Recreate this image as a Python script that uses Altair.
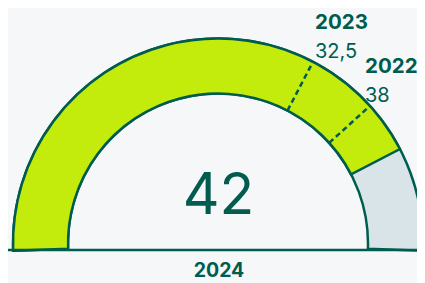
import math
import altair as alt
import pandas as pd

# ---- data ----
years = ["2022", "2023", "2024"]
values = [38, 32.5, 42]
value_labels = ["38", "32,5", "42"]
gauge_min = 0
gauge_max = 50

# ---- layout / style ----
W, H = 409, 275
CX, CY = 210, 235.5
R_OUT, R_IN = 205, 150
DELTA = 0.035
T0 = -math.pi / 2 - DELTA
T1 = math.pi / 2 + DELTA
DARK = "#005C4E"
LIME = "#C3EB0B"
GREY = "#D8E4E8"
BG = "#F5F7F9"
FONT = "Inter"
LABEL_MAX_X = W - 52

df = pd.DataFrame({"year": years, "value": values, "label": value_labels})
current = df[df["year"] == "2024"].copy()
current["start"] = gauge_min
past = df[df["year"] != "2024"]
track = pd.DataFrame({"start": [gauge_min], "value": [gauge_max]})

theta_scale = alt.Scale(domain=[gauge_min, gauge_max], range=[T0, T1])

def arc_layer(data, color):
    return alt.Chart(data).mark_arc(
        radius=R_OUT, radius2=R_IN, fill=color, stroke=DARK, strokeWidth=2.5
    ).encode(
        theta=alt.Theta("start:Q", scale=theta_scale, stack=False),
        theta2="value:Q",
        x=alt.value(CX),
        y=alt.value(CY),
    )

grey_arc = arc_layer(track, GREY)
green_arc = arc_layer(current, LIME)

baseline = alt.Chart(track).mark_rule(color=DARK, strokeWidth=2.5).encode(
    x=alt.value(0), x2=alt.value(W), y=alt.value(242)
)

span = T1 - T0
ang_expr = f"{T0} + {span} * (datum.value - {gauge_min}) / ({gauge_max} - {gauge_min})"

markers_base = alt.Chart(past).transform_calculate(
    ang=ang_expr
).transform_calculate(
    x_in=f"{CX} + {R_IN} * sin(datum.ang)",
    y_in=f"{CY} - {R_IN} * cos(datum.ang)",
    x_out=f"{CX} + {R_OUT} * sin(datum.ang)",
    y_out=f"{CY} - {R_OUT} * cos(datum.ang)",
).transform_calculate(
    x_lab=f"min(datum.x_out + 2, {LABEL_MAX_X})"
)

markers = markers_base.mark_rule(
    color=DARK, strokeWidth=2.5, strokeDash=[5.5, 3.5]
).encode(
    x=alt.X("x_in:Q", scale=None, axis=None),
    y=alt.Y("y_in:Q", scale=None, axis=None),
    x2="x_out:Q",
    y2="y_out:Q",
)

marker_years = markers_base.mark_text(
    align="left", baseline="alphabetic", dy=-33,
    font=FONT, fontSize=20.5, fontWeight="bold", color=DARK
).encode(
    x=alt.X("x_lab:Q", scale=None, axis=None),
    y=alt.Y("y_out:Q", scale=None, axis=None),
    text="year:N",
)

marker_vals = markers_base.mark_text(
    align="left", baseline="alphabetic", dy=-4,
    font=FONT, fontSize=20, fontWeight="normal", color=DARK
).encode(
    x=alt.X("x_lab:Q", scale=None, axis=None),
    y=alt.Y("y_out:Q", scale=None, axis=None),
    text="label:N",
)

big_value = alt.Chart(current).mark_text(
    align="center", baseline="alphabetic",
    font=FONT, fontSize=57, fontWeight="normal", color=DARK
).encode(x=alt.value(CX + 0.5), y=alt.value(206), text="label:N")

year_label = alt.Chart(current).mark_text(
    align="center", baseline="alphabetic",
    font=FONT, fontSize=19.5, fontWeight="bold", color=DARK
).encode(x=alt.value(CX + 1), y=alt.value(269), text="year:N")

chart = alt.layer(
    grey_arc, green_arc, baseline, markers, marker_years, marker_vals,
    big_value, year_label
).properties(
    width=W, height=H, padding=0, autosize=alt.AutoSizeParams(type="none"),
    background=BG
).configure_view(stroke=None)

chart.save("out.html", embed_options={"renderer": "svg", "actions": False})
